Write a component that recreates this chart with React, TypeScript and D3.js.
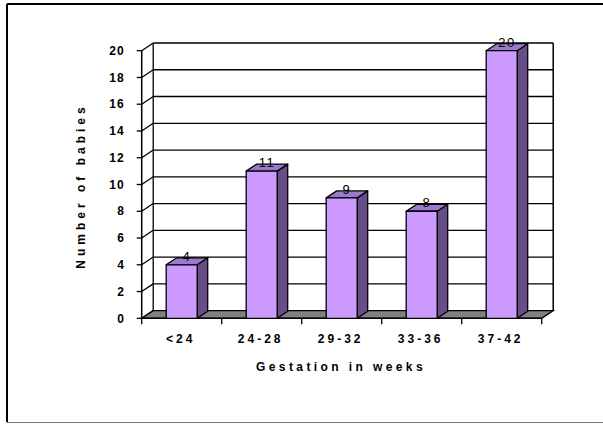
import React from "react";
import * as d3 from "d3";

const categories = ["<24", "24-28", "29-32", "33-36", "37-42"];
const babies = [4, 11, 9, 8, 20];
const yTicks = [0, 2, 4, 6, 8, 10, 12, 14, 16, 18, 20];

const W = 603;
const H = 424;
// front plane of the axes
const left = 141.7;
const right = 541.7;
const bottom = 318.3;
const top = 50.7;
// depth of the 3d box
const dx = 11.5;
const dy = -7.7;
// depth of a bar
const bdx = 10.5;
const bdy = -7;

const colors = {
  face: "#CC99FF",
  top: "#9A7ACC",
  side: "#664F88",
  floor: "#808080",
};

const App = () => {
  const x = d3
    .scaleBand()
    .domain(categories)
    .range([left, right])
    .paddingInner(0.6125)
    .paddingOuter(0.30625);

  const y = d3.scaleLinear().domain([0, 20]).range([bottom, top]);

  const step = x.step();
  const edges = d3.range(categories.length + 1).map((i) => left + i * step);

  const font = "Arial, 'Liberation Sans', sans-serif";

  return (
    <svg
      width={W}
      height={H}
      style={{ position: "fixed", left: 0, top: 0, background: "#fff" }}
      fontFamily={font}
    >
      {/* outer frame */}
      <line x1={7} y1={4} x2={W} y2={4} stroke="#000" strokeWidth={2} />
      <line x1={7} y1={4} x2={7} y2={422} stroke="#000" strokeWidth={2} />
      <line x1={7} y1={422.5} x2={W} y2={422.5} stroke="#777" strokeWidth={1} />

      {/* back wall grid */}
      {yTicks.map((v) => (
        <g key={v}>
          <line
            x1={left + dx}
            x2={right + dx}
            y1={y(v) + dy}
            y2={y(v) + dy}
            stroke="#000"
            strokeWidth={1.3}
          />
          <line
            x1={left}
            x2={left + dx}
            y1={y(v)}
            y2={y(v) + dy}
            stroke="#000"
            strokeWidth={1.3}
          />
          <line
            x1={left - 5}
            x2={left}
            y1={y(v)}
            y2={y(v)}
            stroke="#000"
            strokeWidth={1.3}
          />
          <text
            x={125}
            y={y(v)}
            dy="0.35em"
            textAnchor="end"
            fontSize={12}
            fontWeight="bold"
            letterSpacing={1.2}
          >
            {v}
          </text>
        </g>
      ))}
      <line
        x1={left + dx}
        x2={left + dx}
        y1={y(20) + dy}
        y2={y(0) + dy}
        stroke="#000"
        strokeWidth={1.3}
      />
      <line
        x1={right + dx}
        x2={right + dx}
        y1={y(20) + dy}
        y2={y(0) + dy}
        stroke="#000"
        strokeWidth={1.5}
      />

      {/* floor */}
      <polygon
        points={`${left},${y(0)} ${right},${y(0)} ${right + dx},${y(0) + dy} ${left + dx},${y(0) + dy}`}
        fill={colors.floor}
        stroke="#000"
        strokeWidth={1.3}
      />

      {/* front axes */}
      <line x1={left} x2={left} y1={y(20)} y2={y(0)} stroke="#000" strokeWidth={1.5} />
      <line x1={left} x2={right} y1={y(0)} y2={y(0)} stroke="#000" strokeWidth={1.5} />
      {edges.map((e, i) => (
        <line
          key={i}
          x1={e}
          x2={e}
          y1={y(0)}
          y2={y(0) + 6}
          stroke="#000"
          strokeWidth={1.3}
        />
      ))}

      {/* bars */}
      {categories.map((c, i) => {
        const x0 = x(c)!;
        const x1 = x0 + x.bandwidth();
        const yt = y(babies[i]);
        const yb = y(0);
        return (
          <g key={c} stroke="#000" strokeWidth={1.3} strokeLinejoin="round">
            <polygon
              points={`${x1},${yt} ${x1 + bdx},${yt + bdy} ${x1 + bdx},${yb + bdy} ${x1},${yb}`}
              fill={colors.side}
            />
            <polygon
              points={`${x0},${yt} ${x1},${yt} ${x1 + bdx},${yt + bdy} ${x0 + bdx},${yt + bdy}`}
              fill={colors.top}
            />
            <rect x={x0} y={yt} width={x1 - x0} height={yb - yt} fill={colors.face} />
            <text
              x={(x0 + x1) / 2 + bdx / 2}
              y={yt + bdy + 3}
              textAnchor="middle"
              fontSize={13}
              letterSpacing={1.5}
              stroke="none"
            >
              {babies[i]}
            </text>
            <text
              x={(x0 + x1) / 2 - 1}
              y={y(0) + 20}
              dy="0.35em"
              textAnchor="middle"
              fontSize={12}
              fontWeight="bold"
              letterSpacing={3}
              stroke="none"
            >
              {c}
            </text>
          </g>
        );
      })}

      {/* axis titles */}
      <text
        x={341}
        y={367}
        dy="0.35em"
        textAnchor="middle"
        fontSize={12}
        fontWeight="bold"
        letterSpacing={3.4}
      >
        Gestation in weeks
      </text>
      <text
        transform="translate(81,186) rotate(-90)"
        dy="0.35em"
        textAnchor="middle"
        fontSize={12}
        fontWeight="bold"
        letterSpacing={4}
      >
        Number of babies
      </text>
    </svg>
  );
};

export default App;
